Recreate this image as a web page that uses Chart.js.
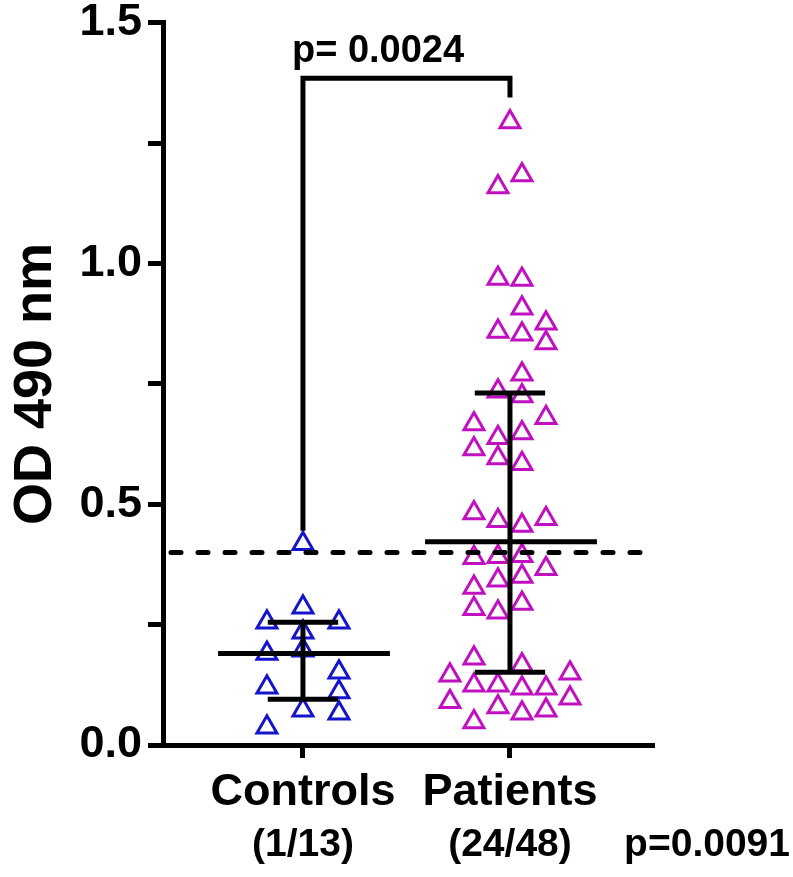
<!DOCTYPE html>
<html>
<head>
<meta charset="utf-8">
<script src="https://cdn.jsdelivr.net/npm/chart.js@4"></script>
<style>
  body { margin: 0; background: #fff; }
  #wrap { width: 793px; height: 877px; }
</style>
</head>
<body>
<div id="wrap"><canvas id="od" width="793" height="877"></canvas></div>
<script>
// groups and values
const categories = ["Controls", "Patients"];
const groupCounts = ["(1/13)", "(24/48)"];

const controlValues = [0.418, 0.286, 0.255, 0.255, 0.234, 0.19, 0.197, 0.151, 0.12, 0.11, 0.072, 0.066, 0.037];
const controlSlots = [0, 0, -3, 3, 0, -3, 0, 3, -3, 3, 0, 3, -3];

const patientValues = [1.294, 1.184, 1.159, 0.969, 0.967, 0.907, 0.876, 0.859, 0.853, 0.835,
  0.77, 0.735, 0.725, 0.68, 0.667, 0.648, 0.638, 0.615, 0.596, 0.584,
  0.482, 0.47, 0.466, 0.456, 0.393, 0.391, 0.389, 0.366, 0.35, 0.342,
  0.327, 0.294, 0.283, 0.276, 0.18, 0.166, 0.149, 0.145, 0.124, 0.124,
  0.118, 0.118, 0.097, 0.09, 0.079, 0.072, 0.066, 0.048];
const patientSlots = [0, 1, -1, -1, 1, 1, 3, -1, 1, 3,
  1, -1, 1, 3, -3, 1, -1, -3, -1, 1,
  -3, 3, -1, 1, 1, -1, -3, 3, 1, -1,
  -3, 1, -3, -1, -3, 1, 5, -5, -3, -1,
  1, 3, 5, -5, -1, 3, 1, -3];

const medians = [0.19, 0.422];
const lowerBars = [0.095, 0.151];
const upperBars = [0.255, 0.731];
const cutoff = 0.4;
const yTicks = [0, 0.5, 1.0, 1.5];
const pairP = "p= 0.0024";
const groupP = "p=0.0091";

const slotStep = 0.058;
const sans = '"Liberation Sans", Arial, sans-serif';

function toPoints(vals, slots, pos) {
  return vals.map(function (v, i) { return { x: pos + slots[i] * slotStep, y: v }; });
}

const extras = {
  id: "extras",
  afterDatasetsDraw(chart) {
    const ctx = chart.ctx;
    const xs = chart.scales.x, ys = chart.scales.y;
    const area = chart.chartArea;
    ctx.save();
    ctx.strokeStyle = "#000";
    ctx.fillStyle = "#000";

    // median + IQR bars
    ctx.lineWidth = 5;
    ctx.lineCap = "butt";
    medians.forEach(function (m, i) {
      const c = i + 1;
      const ym = ys.getPixelForValue(m);
      const yl = ys.getPixelForValue(lowerBars[i]);
      const yu = ys.getPixelForValue(upperBars[i]);
      ctx.beginPath();
      ctx.moveTo(xs.getPixelForValue(c - 0.41), ym);
      ctx.lineTo(xs.getPixelForValue(c + 0.42), ym);
      ctx.moveTo(xs.getPixelForValue(c), yl);
      ctx.lineTo(xs.getPixelForValue(c), yu);
      ctx.moveTo(xs.getPixelForValue(c - 0.17), yl);
      ctx.lineTo(xs.getPixelForValue(c + 0.17), yl);
      ctx.moveTo(xs.getPixelForValue(c - 0.17), yu);
      ctx.lineTo(xs.getPixelForValue(c + 0.17), yu);
      ctx.stroke();
    });

    // cutoff line
    ctx.setLineDash([10, 17]);
    ctx.lineCap = "round";
    ctx.beginPath();
    const yc = ys.getPixelForValue(cutoff);
    ctx.moveTo(area.left + 8, yc);
    ctx.lineTo(area.right - 12, yc);
    ctx.stroke();
    ctx.setLineDash([]);

    // significance bracket
    ctx.lineCap = "butt";
    const x1 = xs.getPixelForValue(1), x2 = xs.getPixelForValue(2);
    const yb = ys.getPixelForValue(1.385);
    ctx.beginPath();
    ctx.moveTo(x1, ys.getPixelForValue(0.445));
    ctx.lineTo(x1, yb);
    ctx.lineTo(x2, yb);
    ctx.lineTo(x2, ys.getPixelForValue(1.345));
    ctx.stroke();
    ctx.font = "bold 38px " + sans;
    ctx.textAlign = "left";
    ctx.textBaseline = "alphabetic";
    ctx.fillText(pairP, x1 - 11, yb - 16);

    // group counts and chi-square p
    ctx.font = "bold 39px " + sans;
    ctx.textAlign = "center";
    ctx.textBaseline = "middle";
    groupCounts.forEach(function (t, i) {
      ctx.fillText(t, xs.getPixelForValue(i + 1), 845);
    });
    ctx.textAlign = "right";
    ctx.fillText(groupP, 790, 845);
    ctx.restore();
  }
};

new Chart(document.getElementById("od"), {
  type: "scatter",
  data: {
    datasets: [
      {
        label: categories[0],
        data: toPoints(controlValues, controlSlots, 1),
        pointStyle: "triangle",
        radius: 11.5,
        borderWidth: 3,
        borderColor: "#1414cc",
        backgroundColor: "rgba(0,0,0,0)"
      },
      {
        label: categories[1],
        data: toPoints(patientValues, patientSlots, 2),
        pointStyle: "triangle",
        radius: 11.5,
        borderWidth: 3,
        borderColor: "#c010c0",
        backgroundColor: "rgba(0,0,0,0)"
      }
    ]
  },
  options: {
    responsive: false,
    animation: false,
    layout: { padding: { top: 22, right: 141, bottom: 0, left: 0 } },
    plugins: { legend: { display: false }, tooltip: { enabled: false } },
    scales: {
      x: {
        type: "linear",
        min: 0.324,
        max: 2.686,
        afterBuildTicks(scale) { scale.ticks = [{ value: 1 }, { value: 2 }]; },
        afterFit(scale) { scale.height = 132; },
        border: { color: "#000", width: 5 },
        grid: { drawOnChartArea: false, color: "#000", lineWidth: 5, tickLength: 13 },
        ticks: {
          autoSkip: false,
          maxRotation: 0,
          padding: 8,
          color: "#000",
          font: { family: sans, size: 45, weight: "bold" },
          callback: function (v) { return categories[Math.round(v) - 1]; }
        }
      },
      y: {
        min: 0,
        max: 1.5,
        afterFit(scale) { scale.width = 163; },
        border: { color: "#000", width: 5 },
        grid: { drawOnChartArea: false, color: "#000", lineWidth: 5, tickLength: 15 },
        title: {
          display: true,
          text: "OD 490 nm",
          color: "#000",
          padding: { top: 4, bottom: 0 },
          font: { family: sans, size: 54, weight: "bold" }
        },
        ticks: {
          stepSize: 0.25,
          padding: 6,
          color: "#000",
          font: { family: sans, size: 45, weight: "bold", lineHeight: 0.75 },
          callback: function (v) {
            return yTicks.some(function (t) { return Math.abs(t - v) < 1e-6; }) ? v.toFixed(1) : "";
          }
        }
      }
    }
  },
  plugins: [extras]
});
</script>
</body>
</html>
